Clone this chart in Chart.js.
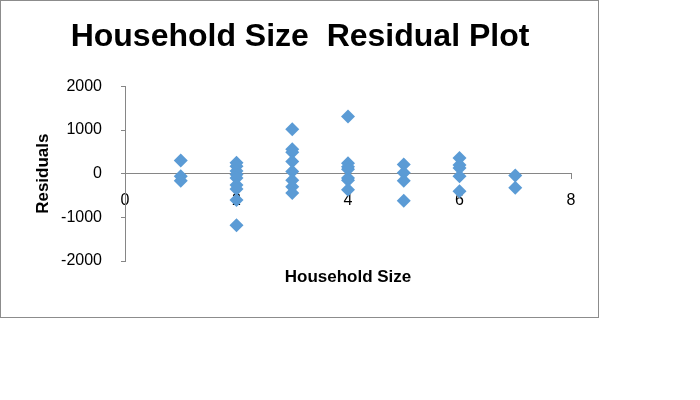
<!DOCTYPE html>
<html>
<head>
<meta charset="utf-8">
<script src="https://cdn.jsdelivr.net/npm/chart.js@4"></script>
<style>
  html, body { margin: 0; padding: 0; background: #ffffff; }
  #wrap { position: absolute; left: 0; top: 0; width: 600px; height: 318px; }
</style>
</head>
<body>
<div id="wrap"><canvas id="c"></canvas></div>
<script>
// Household sizes (x) and residuals (y)
const householdSize = [
  1, 1, 1,
  2, 2, 2, 2, 2, 2, 2, 2, 2,
  3, 3, 3, 3, 3, 3, 3, 3,
  4, 4, 4, 4, 4, 4, 4,
  5, 5, 5, 5,
  6, 6, 6, 6, 6,
  7, 7
];
const residuals = [
  300, -60, -160,
  250, 170, 60, -20, -100, -260, -350, -600, -1180,
  1020, 560, 490, 280, 50, -150, -300, -440,
  1310, 240, 160, 100, -100, -150, -370,
  210, 20, -160, -620,
  360, 200, 130, -60, -400,
  -40, -320
];
const xTicks = [0, 2, 4, 6, 8];
const yTicks = [-2000, -1000, 0, 1000, 2000];

const chartTitle = 'Household Size  Residual Plot';
const xTitle = 'Household Size';
const yTitle = 'Residuals';

const points = householdSize.map((x, i) => ({ x: x, y: residuals[i] }));

const axisGray = '#868686';
const fam = "'Liberation Sans', Arial, sans-serif";

const borderPlugin = {
  id: 'outerBorder',
  afterDraw(chart) {
    const ctx = chart.ctx;
    ctx.save();
    ctx.strokeStyle = '#8c8c8c';
    ctx.lineWidth = 1;
    ctx.strokeRect(0.5, 0.5, chart.width - 2, chart.height - 1);
    ctx.restore();
  }
};

new Chart(document.getElementById('c'), {
  type: 'scatter',
  data: {
    datasets: [{
      data: points,
      xAxisID: 'x',
      yAxisID: 'y',
      pointStyle: 'rectRot',
      pointRadius: 7,
      pointHoverRadius: 7,
      backgroundColor: '#5B9BD5',
      borderColor: '#5B9BD5',
      borderWidth: 0
    }]
  },
  options: {
    responsive: true,
    maintainAspectRatio: false,
    animation: false,
    layout: { padding: 0 },
    plugins: {
      legend: { display: false },
      tooltip: { enabled: false },
      title: {
        display: true,
        text: chartTitle,
        color: '#000000',
        font: { family: fam, size: 32, weight: 'bold', lineHeight: 1.2 },
        padding: { top: 18, bottom: 30 }
      }
    },
    scales: {
      x: {
        type: 'linear',
        position: { y: 0 },
        min: 0,
        max: 8,
        afterBuildTicks(scale) { scale.ticks = xTicks.map(v => ({ value: v })); },
        ticks: {
          color: '#000000',
          font: { family: fam, size: 16 },
          padding: 12
        },
        grid: { display: true, drawOnChartArea: false, drawTicks: true, tickLength: 5, color: axisGray },
        border: { display: true, color: axisGray, width: 1 }
      },
      xb: {
        type: 'linear',
        position: 'bottom',
        min: 0,
        max: 8,
        ticks: { display: false },
        grid: { display: false, drawTicks: false },
        border: { display: false },
        title: {
          display: true,
          text: xTitle,
          color: '#000000',
          font: { family: fam, size: 17, weight: 'bold', lineHeight: 1.2 },
          padding: { top: 0, bottom: 30 }
        },
        afterFit(scale) { scale.height = 57; }
      },
      y: {
        type: 'linear',
        position: 'left',
        min: -2000,
        max: 2000,
        afterBuildTicks(scale) { scale.ticks = yTicks.map(v => ({ value: v })); },
        ticks: {
          color: '#000000',
          font: { family: fam, size: 16 },
          padding: 19,
          callback: (v) => String(v)
        },
        grid: { display: true, drawOnChartArea: false, drawTicks: true, tickLength: 4, color: axisGray },
        border: { display: true, color: axisGray, width: 1 },
        title: {
          display: true,
          text: yTitle,
          color: '#000000',
          font: { family: fam, size: 17, weight: 'bold', lineHeight: 1.2 },
          padding: { top: 33, bottom: 0 }
        },
        afterFit(scale) { scale.width = 125; }
      },
      yr: {
        type: 'linear',
        position: 'right',
        min: -2000,
        max: 2000,
        ticks: { display: false },
        grid: { display: false, drawTicks: false },
        border: { display: false },
        afterFit(scale) { scale.width = 29; }
      }
    }
  },
  plugins: [borderPlugin]
});
</script>
</body>
</html>
